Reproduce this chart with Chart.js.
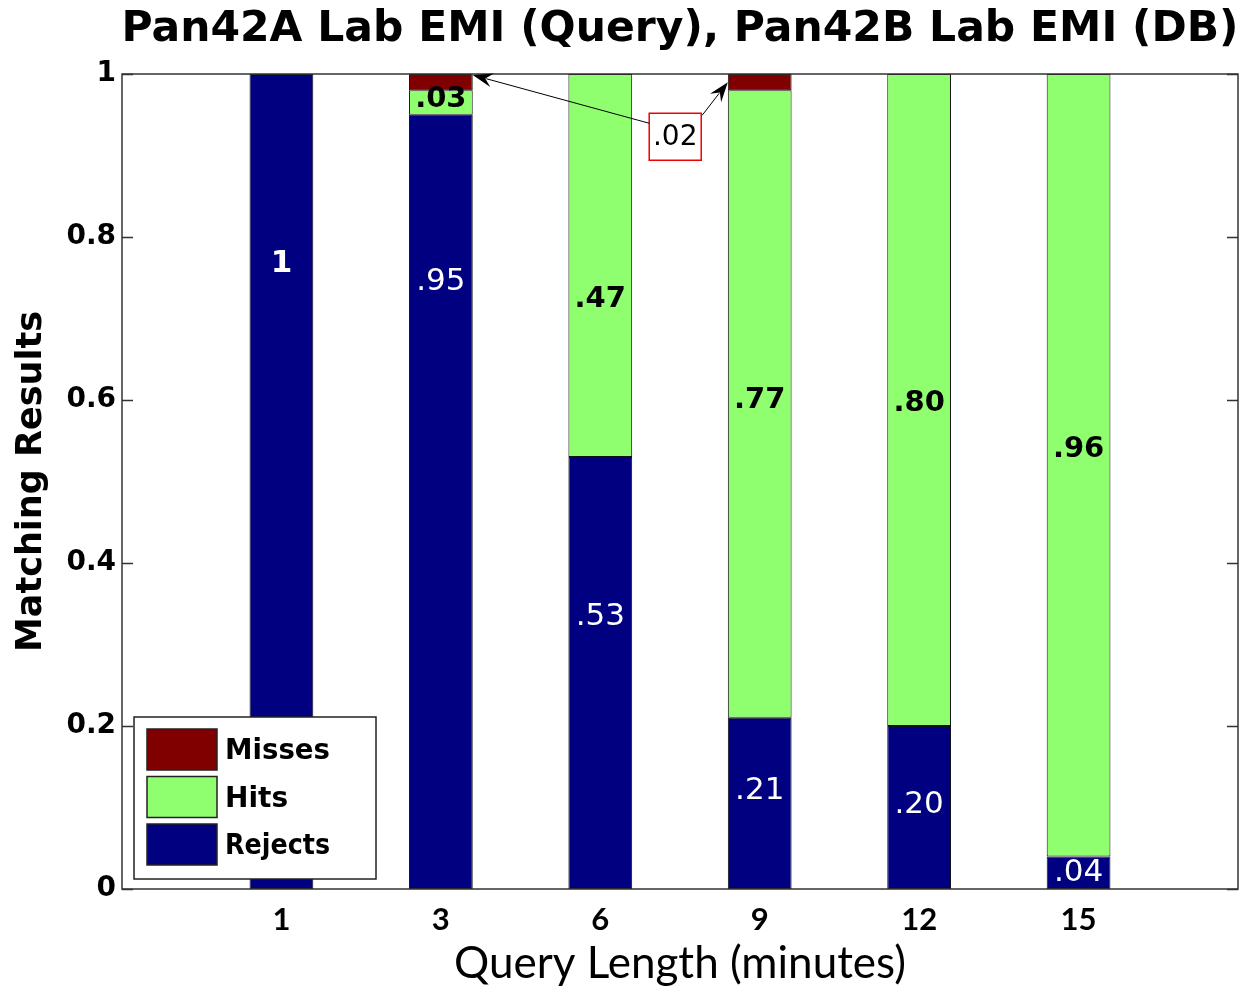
<!DOCTYPE html>
<html>
<head>
<meta charset="utf-8">
<script src="https://cdn.jsdelivr.net/npm/chart.js@4.4.1/dist/chart.umd.min.js"></script>
<style>
  html, body { margin: 0; padding: 0; background: #fff; }
</style>
</head>
<body>
<canvas id="match-chart" width="1253" height="986"></canvas>
<script>
// matching results per query length (minutes)
const lengths = ['1', '3', '6', '9', '12', '15'];
const rejects = [1, 0.95, 0.53, 0.21, 0.20, 0.04];
const hits = [0, 0.03, 0.47, 0.77, 0.80, 0.96];
const misses = [0, 0.02, 0, 0.02, 0, 0];
const yTicks = [0, 0.2, 0.4, 0.6, 0.8, 1];

// height (in y units) where each segment's value text sits
const rejectTextAt = [0.767, 0.745, 0.334, 0.12, 0.103, 0.02];
const hitTextAt = [null, 0.969, 0.723, 0.6, 0.596, 0.539];

const titleText = 'Pan42A Lab EMI (Query), Pan42B Lab EMI (DB)';
const colors = { rejects: '#000080', hits: '#8fff6f', misses: '#800000' };

// one empty slot each side so the bars sit at 1..6 on a 0..7 axis
const pad = arr => [null, ...arr, null];
const fmt = v => v === 1 ? '1' : v.toFixed(2).replace(/^0/, '');

function arrow(ctx, x0, y0, x1, y1) {
  const ang = Math.atan2(y1 - y0, x1 - x0);
  const len = 20, half = 7;
  const c = Math.cos(ang), s = Math.sin(ang);
  ctx.beginPath();
  ctx.moveTo(x0, y0);
  ctx.lineTo(x1 - c * len * 0.7, y1 - s * len * 0.7);
  ctx.stroke();
  ctx.beginPath();
  ctx.moveTo(x1, y1);
  ctx.lineTo(x1 - c * len - s * half, y1 - s * len + c * half);
  ctx.lineTo(x1 - c * len * 0.65, y1 - s * len * 0.65);
  ctx.lineTo(x1 - c * len + s * half, y1 - s * len - c * half);
  ctx.closePath();
  ctx.fill();
}

const decorations = {
  id: 'decorations',
  afterDatasetsDraw(chart) {
    const { ctx, chartArea: a, scales: { x, y } } = chart;
    ctx.save();

    // box round the axes, ticks pointing inwards on both sides
    ctx.strokeStyle = '#333';
    ctx.lineWidth = 1.5;
    ctx.strokeRect(a.left, a.top, a.right - a.left, a.bottom - a.top);
    ctx.beginPath();
    yTicks.forEach(t => {
      const py = Math.round(y.getPixelForValue(t)) + 0.5;
      ctx.moveTo(a.left, py); ctx.lineTo(a.left + 11, py);
      ctx.moveTo(a.right - 11, py); ctx.lineTo(a.right, py);
    });
    ctx.stroke();

    // value text inside the segments
    ctx.textAlign = 'center';
    ctx.textBaseline = 'middle';
    lengths.forEach((_, i) => {
      const px = x.getPixelForValue(i + 1);
      ctx.fillStyle = '#fff';
      ctx.font = (rejects[i] === 1 ? 'bold ' : '') + '31px "DejaVu Sans"';
      ctx.fillText(fmt(rejects[i]), px, y.getPixelForValue(rejectTextAt[i]));
      if (hits[i] > 0) {
        ctx.fillStyle = '#000';
        ctx.font = 'bold 29px "DejaVu Sans"';
        ctx.fillText(fmt(hits[i]), px, y.getPixelForValue(hitTextAt[i]));
      }
    });

    // callout for the thin misses segments
    const cx = x.getPixelForValue(3.47), cy = y.getPixelForValue(0.923);
    const bw = 52, bh = 47;
    const bl = cx - bw / 2, bt = cy - bh / 2;
    ctx.fillStyle = '#fff';
    ctx.fillRect(bl, bt, bw, bh);
    ctx.strokeStyle = '#e00';
    ctx.lineWidth = 1.5;
    ctx.strokeRect(bl, bt, bw, bh);
    ctx.fillStyle = '#000';
    ctx.font = '28px "DejaVu Sans"';
    ctx.fillText(fmt(misses[1]), cx, cy + 1);

    const meta = chart.getDatasetMeta(2);
    const m3 = meta.data[2].getProps(['x', 'y', 'width', 'base'], true);
    const m9 = meta.data[4].getProps(['x', 'y', 'width', 'base'], true);
    ctx.strokeStyle = '#000';
    ctx.lineWidth = 1;
    arrow(ctx, bl, bt + 10, m3.x + m3.width / 2, m3.y + 1);
    arrow(ctx, bl + bw + 1, bt + 2, m9.x - m9.width / 2, (m9.y + m9.base) / 2);

    // legend, top entry first
    const entries = [['Misses', colors.misses], ['Hits', colors.hits], ['Rejects', colors.rejects]];
    const lx = a.left + 12, lt = a.bottom - 172;
    ctx.fillStyle = '#fff';
    ctx.fillRect(lx, lt, 242, 162);
    ctx.strokeStyle = '#222';
    ctx.lineWidth = 1.5;
    ctx.strokeRect(lx, lt, 242, 162);
    ctx.textAlign = 'left';
    ctx.font = 'bold 28px "DejaVu Sans"';
    entries.forEach(([label, c], k) => {
      const ty = lt + 12 + k * 47.5;
      ctx.fillStyle = c;
      ctx.fillRect(lx + 13, ty, 70, 41);
      ctx.strokeRect(lx + 13, ty, 70, 41);
      ctx.fillStyle = '#000';
      ctx.fillText(label, lx + 91, ty + 23, 105);
    });

    // title, centred over the axes
    ctx.textAlign = 'center';
    ctx.textBaseline = 'alphabetic';
    ctx.font = 'bold 43px "DejaVu Sans"';
    ctx.fillText(titleText, (a.left + a.right) / 2, 41, 1117);
    ctx.restore();
  }
};

const barStyle = { borderColor: '#111', borderWidth: 1, borderSkipped: false,
                   categoryPercentage: 1, barPercentage: 0.4 };

const config = {
  type: 'bar',
  data: {
    labels: ['', ...lengths, ''],
    datasets: [
      { label: 'Rejects', data: pad(rejects), backgroundColor: colors.rejects, ...barStyle },
      { label: 'Hits', data: pad(hits), backgroundColor: colors.hits, ...barStyle },
      { label: 'Misses', data: pad(misses), backgroundColor: colors.misses, ...barStyle }
    ]
  },
  options: {
    responsive: false,
    animation: false,
    layout: { padding: { top: 74, right: 15, left: 0, bottom: 0 } },
    plugins: { legend: { display: false }, tooltip: { enabled: false }, title: { display: false } },
    scales: {
      x: {
        stacked: true,
        offset: false,
        grid: { display: false, drawTicks: false },
        border: { display: false },
        ticks: { color: '#000', padding: 12, maxRotation: 0, autoSkip: false,
                 font: { family: 'Lato', weight: 'bold', size: 31 } },
        title: { display: true, text: 'Query Length (minutes)', color: '#000',
                 padding: { top: 3, bottom: 0 },
                 font: { family: 'Lato', size: 44, lineHeight: 1 } },
        afterFit: s => { s.height = 97; }
      },
      y: {
        stacked: true,
        min: 0,
        max: 1,
        grid: { display: false, drawTicks: false },
        border: { display: false },
        ticks: { stepSize: 0.2, color: '#000', padding: 6,
                 font: { family: 'DejaVu Sans', weight: 'bold', size: 28 },
                 callback: v => String(Number(v.toFixed(1))) },
        title: { display: true, text: 'Matching Results', color: '#000',
                 padding: { top: 14, bottom: 0 },
                 font: { family: 'DejaVu Sans', weight: 'bold', size: 35, lineHeight: 1 } },
        afterFit: s => { s.width = 122; }
      }
    }
  },
  plugins: [decorations]
};

const matchChart = new Chart(document.getElementById('match-chart').getContext('2d'), config);
</script>
</body>
</html>
